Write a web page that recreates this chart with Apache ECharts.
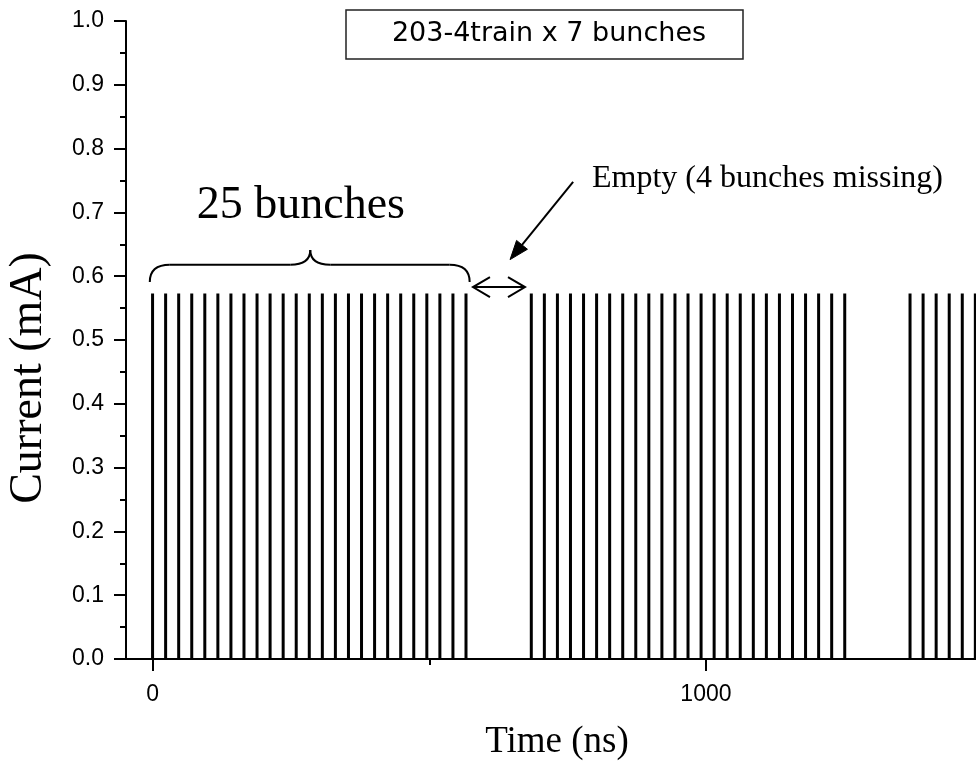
<!DOCTYPE html>
<html>
<head>
<meta charset="utf-8">
<script src="https://cdn.jsdelivr.net/npm/echarts@6/dist/echarts.min.js"></script>
<style>html,body{margin:0;padding:0;background:#fff}#chart{width:976px;height:763px}</style>
</head>
<body>
<div id="chart"></div>
<script>
// ---- data ----
const bunchTimes = [
  0, 23.6, 47.2, 70.8, 94.4, 118, 141.6, 165.2, 188.8, 212.4, 236, 259.6, 283.2,
  306.8, 330.4, 354, 377.6, 401.2, 424.8, 448.4, 472, 495.6, 519.2, 542.8, 566.4,
  684.4, 708, 731.6, 755.2, 778.8, 802.4, 826, 849.6, 873.2, 896.8, 920.4, 944, 967.6,
  991.2, 1014.8, 1038.4, 1062, 1085.6, 1109.2, 1132.8, 1156.4, 1180, 1203.6, 1227.2, 1250.8,
  1368.8, 1392.4, 1416, 1439.6, 1463.2, 1486.8
];
const bunchCurrents = [
  0.573, 0.573, 0.573, 0.573, 0.573, 0.573, 0.573, 0.573, 0.573, 0.573, 0.573, 0.573, 0.573,
  0.573, 0.573, 0.573, 0.573, 0.573, 0.573, 0.573, 0.573, 0.573, 0.573, 0.573, 0.573,
  0.573, 0.573, 0.573, 0.573, 0.573, 0.573, 0.573, 0.573, 0.573, 0.573, 0.573, 0.573, 0.573,
  0.573, 0.573, 0.573, 0.573, 0.573, 0.573, 0.573, 0.573, 0.573, 0.573, 0.573, 0.573,
  0.573, 0.573, 0.573, 0.573, 0.573, 0.573
];
const xTickLabels = [0, 1000];
const xMinorTicks = [500];
const titleText = '203-4train x 7 bunches';
const xAxisTitle = 'Time (ns)';
const yAxisTitle = 'Current (mA)';
const braceLabel = '25 bunches';
const emptyLabel = 'Empty (4 bunches missing)';

// annotation anchors in data units
const braceX = [-5, 285, 573];        // start, middle, end
const braceY = [0.591, 0.618, 0.641]; // ends, line, peak
const gapArrowX = [579, 673];
const gapArrowY = 0.583;
const pointerFrom = [760, 0.748];
const pointerTo = [646, 0.626];
const braceLabelPos = [268, 0.713];
const emptyLabelPos = [794, 0.753];

// ---- chart ----
const chart = echarts.init(document.getElementById('chart'), null, {renderer: 'canvas'});
const seriesData = bunchTimes.map((t, i) => [t, bunchCurrents[i]]);
const black = '#000';
const sans = '"Liberation Sans", Arial, sans-serif';
const serif = '"Liberation Serif", "Times New Roman", serif';

chart.setOption({
  animation: false,
  backgroundColor: '#fff',
  grid: {left: 126, right: 0, top: 21, bottom: 104, containLabel: false},
  xAxis: [
    {
      type: 'value', min: -48, max: 1488, position: 'bottom',
      axisLine: {onZero: false, lineStyle: {color: black, width: 2}},
      axisTick: {show: true, customValues: xTickLabels, length: 12, lineStyle: {color: black, width: 2}},
      axisLabel: {customValues: xTickLabels, formatter: v => String(v), margin: 24, color: black, fontSize: 23, fontFamily: sans},
      splitLine: {show: false}
    },
    {
      type: 'value', min: -48, max: 1488, position: 'bottom',
      axisLine: {show: false, onZero: false},
      axisTick: {show: true, customValues: xMinorTicks, length: 6, lineStyle: {color: black, width: 2}},
      axisLabel: {show: false},
      splitLine: {show: false}
    }
  ],
  yAxis: {
    type: 'value', min: 0, max: 1, interval: 0.1,
    axisLine: {show: true, onZero: false, lineStyle: {color: black, width: 2}},
    axisTick: {show: true, length: 12, lineStyle: {color: black, width: 2}},
    minorTick: {show: true, splitNumber: 2, length: 6, lineStyle: {color: black, width: 2}},
    axisLabel: {formatter: v => v.toFixed(1), margin: 22, color: black, fontSize: 23, fontFamily: sans},
    splitLine: {show: false}
  },
  series: [{
    type: 'bar', xAxisIndex: 0, yAxisIndex: 0, data: seriesData,
    barWidth: 3, itemStyle: {color: black}, clip: true
  }]
});

function px(pt) { return chart.convertToPixel({xAxisIndex: 0, yAxisIndex: 0}, pt); }

const g = [];
// title box
g.push({type: 'rect', shape: {x: 346, y: 10, width: 397, height: 49},
  style: {fill: '#fff', stroke: '#222', lineWidth: 1.5}, z: 10});
g.push({type: 'text', x: 549, y: 34, z: 11,
  style: {text: titleText, align: 'center', verticalAlign: 'middle', font: '27px "DejaVu Sans", sans-serif', fill: black}});
// axis titles
g.push({type: 'text', x: 557, y: 742,
  style: {text: xAxisTitle, align: 'center', verticalAlign: 'middle', font: '37px ' + serif, fill: black}});
g.push({type: 'text', x: 29, y: 378, rotation: Math.PI / 2,
  style: {text: yAxisTitle, align: 'center', verticalAlign: 'middle', font: '46px ' + serif, fill: black}});

// brace
const bs = px([braceX[0], braceY[0]]);
const bm = px([braceX[1], braceY[2]]);
const be = px([braceX[2], braceY[0]]);
const yl = px([0, braceY[1]])[1];
const r = 20;
const braceStyle = {stroke: black, lineWidth: 2, fill: 'none'};
g.push({type: 'bezierCurve', shape: {x1: bs[0], y1: bs[1], cpx1: bs[0], cpy1: yl, x2: bs[0] + r, y2: yl}, style: braceStyle});
g.push({type: 'line', shape: {x1: bs[0] + r, y1: yl, x2: bm[0] - r, y2: yl}, style: braceStyle});
g.push({type: 'bezierCurve', shape: {x1: bm[0] - r, y1: yl, cpx1: bm[0], cpy1: yl, x2: bm[0], y2: bm[1]}, style: braceStyle});
g.push({type: 'bezierCurve', shape: {x1: bm[0], y1: bm[1], cpx1: bm[0], cpy1: yl, x2: bm[0] + r, y2: yl}, style: braceStyle});
g.push({type: 'line', shape: {x1: bm[0] + r, y1: yl, x2: be[0] - r, y2: yl}, style: braceStyle});
g.push({type: 'bezierCurve', shape: {x1: be[0] - r, y1: yl, cpx1: be[0], cpy1: yl, x2: be[0], y2: be[1]}, style: braceStyle});

// double arrow
const a0 = px([gapArrowX[0], gapArrowY]);
const a1 = px([gapArrowX[1], gapArrowY]);
const arrStyle = {stroke: black, lineWidth: 2, fill: 'none'};
g.push({type: 'line', shape: {x1: a0[0], y1: a0[1], x2: a1[0], y2: a1[1]}, style: arrStyle});
g.push({type: 'polyline', shape: {points: [[a0[0] + 17, a0[1] - 10], [a0[0], a0[1]], [a0[0] + 17, a0[1] + 10]]}, style: arrStyle});
g.push({type: 'polyline', shape: {points: [[a1[0] - 17, a1[1] - 10], [a1[0], a1[1]], [a1[0] - 17, a1[1] + 10]]}, style: arrStyle});

// pointer arrow
const p0 = px(pointerFrom);
const p1 = px(pointerTo);
const dx = p1[0] - p0[0], dy = p1[1] - p0[1];
const len = Math.sqrt(dx * dx + dy * dy);
const ux = dx / len, uy = dy / len;
const hl = 19, hw = 7;
const base = [p1[0] - ux * hl, p1[1] - uy * hl];
g.push({type: 'line', shape: {x1: p0[0], y1: p0[1], x2: base[0], y2: base[1]}, style: {stroke: black, lineWidth: 2}});
g.push({type: 'polygon', shape: {points: [[p1[0], p1[1]], [base[0] - uy * hw, base[1] + ux * hw], [base[0] + uy * hw, base[1] - ux * hw]]},
  style: {fill: black, stroke: black, lineWidth: 1}});

// labels
const bl = px(braceLabelPos);
g.push({type: 'text', x: bl[0], y: bl[1] + 2,
  style: {text: braceLabel, align: 'center', verticalAlign: 'middle', font: '46px ' + serif, fill: black}});
const el = px(emptyLabelPos);
g.push({type: 'text', x: el[0], y: el[1],
  style: {text: emptyLabel, align: 'left', verticalAlign: 'middle', font: '32px ' + serif, fill: black}});

chart.setOption({graphic: g});
</script>
</body>
</html>
